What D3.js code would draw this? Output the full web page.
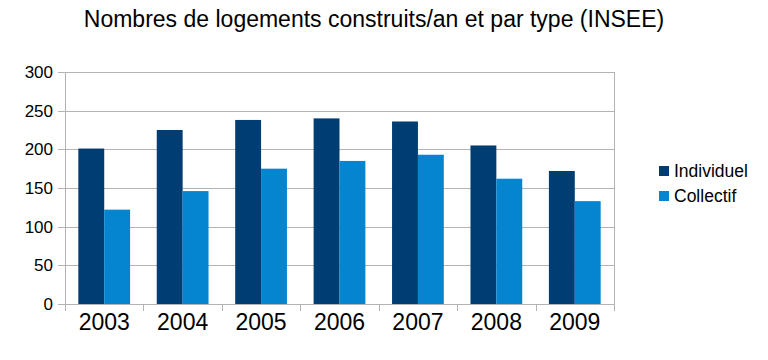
<!DOCTYPE html>
<html><head><meta charset="utf-8">
<script src="https://cdn.jsdelivr.net/npm/d3@7/dist/d3.min.js"></script>
<style>body{margin:0;background:#fff;}svg{display:block;font-family:"Liberation Sans",Arial,sans-serif;}</style>
</head><body>
<svg id="c" width="768" height="360"></svg>
<script>
const categories = ["2003","2004","2005","2006","2007","2008","2009"];
const seriesNames = ["Individuel","Collectif"];
const individuel = [201, 225, 238, 240, 236, 205, 172];
const collectif = [122, 146, 175, 185, 193, 162, 133];
const yTicks = [0, 50, 100, 150, 200, 250, 300];
const colors = ["#003d73", "#0584d0"];

const svg = d3.select("#c");
const m = {left: 65, right: 154, top: 72, bottom: 56};
const W = 768, H = 360;
const x = d3.scaleBand().domain(categories).range([m.left, W - m.right]).paddingInner(0.34).paddingOuter(0.17);
const y = d3.scaleLinear().domain([0, 300]).range([H - m.bottom, m.top]);
const xs = d3.scaleBand().domain(seriesNames).range([0, x.bandwidth()]);

svg.append("text").attr("x", 374).attr("y", 27).attr("text-anchor", "middle")
  .attr("font-size", 23).attr("fill", "#000").text("Nombres de logements construits/an et par type (INSEE)");

// gridlines
svg.append("g").selectAll("line").data(yTicks).join("line")
  .attr("x1", m.left - 7).attr("x2", W - m.right)
  .attr("y1", d => Math.round(y(d)) + 0.5).attr("y2", d => Math.round(y(d)) + 0.5)
  .attr("stroke", "#b3b3b3").attr("stroke-width", 1);
// right border
svg.append("line").attr("x1", W - m.right + 0.5).attr("x2", W - m.right + 0.5)
  .attr("y1", y(300)).attr("y2", y(0)).attr("stroke", "#b3b3b3");
// left axis
svg.append("line").attr("x1", m.left + 0.5).attr("x2", m.left + 0.5)
  .attr("y1", y(300)).attr("y2", y(0)).attr("stroke", "#b3b3b3");

const yAxis = d3.axisLeft(y).tickValues(yTicks).tickSize(0).tickPadding(12);
const gy = svg.append("g").attr("transform", `translate(${m.left},0)`).call(yAxis);
gy.select(".domain").remove();
gy.selectAll("text").attr("font-size", 17).attr("fill", "#000").attr("font-family", "Liberation Sans, Arial, sans-serif");

// bars
const groups = svg.append("g").selectAll("g").data(categories).join("g")
  .attr("transform", d => `translate(${x(d)},0)`);
groups.selectAll("rect").data((d, i) => [individuel[i], collectif[i]].map((v, j) => ({v, s: seriesNames[j], j})))
  .join("rect")
  .attr("x", d => xs(d.s)).attr("width", xs.bandwidth())
  .attr("y", d => y(d.v)).attr("height", d => y(0) - y(d.v))
  .attr("fill", d => colors[d.j]);

// x axis ticks at boundaries
const bounds = d3.range(categories.length + 1).map(i => m.left + i * ((W - m.right - m.left) / categories.length));
svg.append("g").selectAll("line").data(bounds).join("line")
  .attr("x1", d => Math.round(d) + 0.5).attr("x2", d => Math.round(d) + 0.5)
  .attr("y1", y(0)).attr("y2", y(0) + 7).attr("stroke", "#b3b3b3");
svg.append("line").attr("x1", m.left).attr("x2", W - m.right).attr("y1", Math.round(y(0)) + 0.5).attr("y2", Math.round(y(0)) + 0.5).attr("stroke", "#b3b3b3");

const xAxis = d3.axisBottom(x).tickSize(0).tickPadding(10);
const gx = svg.append("g").attr("transform", `translate(0,${y(0)})`).call(xAxis);
gx.select(".domain").remove();
gx.selectAll("text").attr("font-size", 23).attr("fill", "#000").attr("font-family", "Liberation Sans, Arial, sans-serif");

// legend
const lg = svg.append("g").attr("transform", "translate(659,166)");
seriesNames.forEach((s, i) => {
  lg.append("rect").attr("x", 0).attr("y", i * 25).attr("width", 10).attr("height", 10).attr("fill", colors[i]);
  lg.append("text").attr("x", 15).attr("y", i * 25 + 5).attr("dy", "0.35em").attr("font-size", 17.5).attr("fill", "#000").text(s);
});
</script>
</body></html>
